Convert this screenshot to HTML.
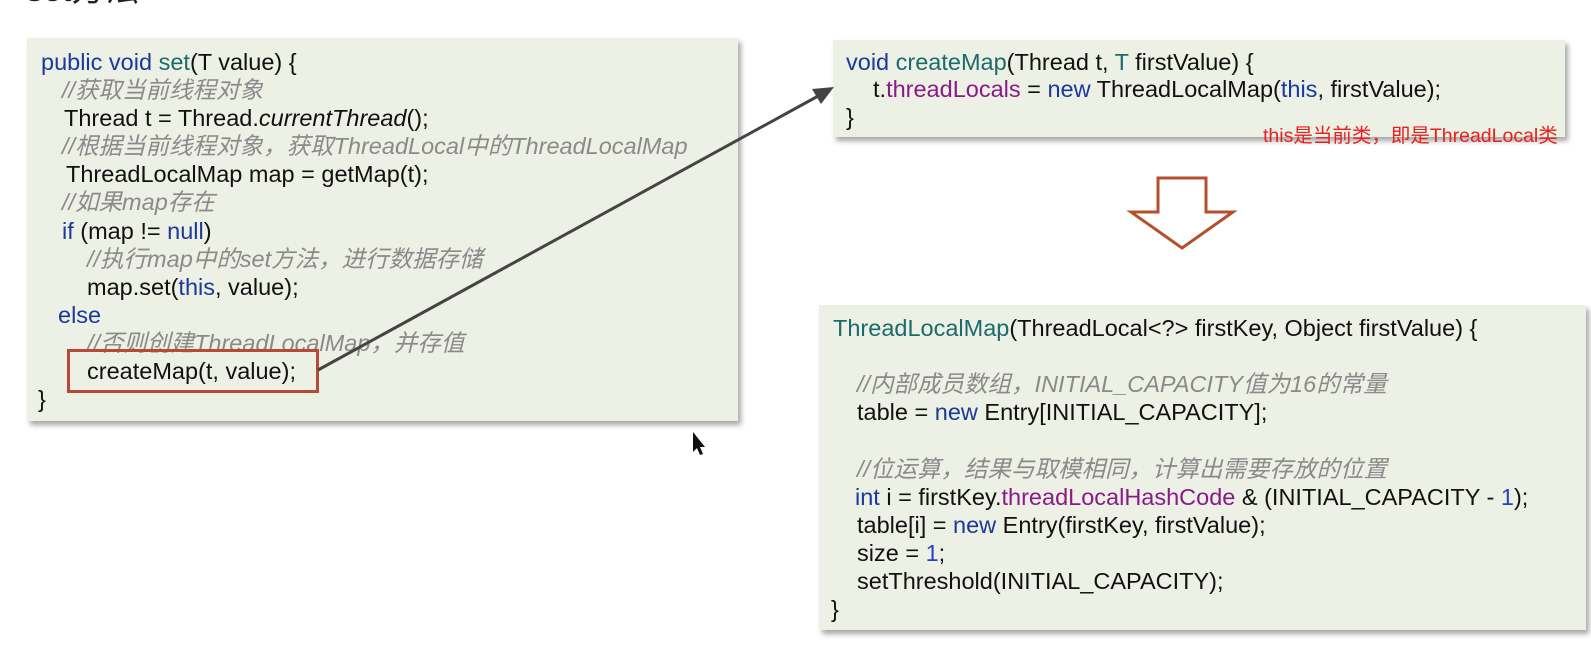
<!DOCTYPE html>
<html><head><meta charset="utf-8"><style>
body{margin:0;width:1591px;height:659px;background:#fff;position:relative;overflow:hidden;font-family:"Liberation Sans","Noto Sans CJK SC",sans-serif;}
.box{position:absolute;background:#edf0e4;box-shadow:3px 4px 5px rgba(0,0,0,0.35);}
.l{position:absolute;white-space:pre;font-size:23.5px;color:#111;line-height:28px;transform-origin:0 50%;}
.k{color:#1a3a9a}.f{color:#1a6b6b}.p{color:#8a1a8a}.n{color:#2244cc}
.c{color:#8a8a8a;font-style:italic}
</style></head><body>
<div class="l" style="left:26px;top:-30px;font-size:34px;line-height:40px;color:#222;">set方法</div>

<div class="box" style="left:27px;top:38px;width:711px;height:383px;"></div>
<div class="l" style="left:41px;top:48px;"><span class="k">public void </span><span class="f">set</span>(T value) {</div>
<div class="l c" style="left:62px;top:76px;">//获取当前线程对象</div>
<div class="l" style="left:64px;top:104px;">Thread t = Thread.<i>currentThread</i>();</div>
<div class="l c" style="left:62px;top:132px;">//根据当前线程对象，获取ThreadLocal中的ThreadLocalMap</div>
<div class="l" style="left:66px;top:160px;">ThreadLocalMap map = getMap(t);</div>
<div class="l c" style="left:62px;top:188px;">//如果map存在</div>
<div class="l" style="left:62px;top:217px;"><span class="k">if</span> (map != <span class="k">null</span>)</div>
<div class="l c" style="left:87px;top:245px;">//执行map中的set方法，进行数据存储</div>
<div class="l" style="left:87px;top:273px;">map.set(<span class="k">this</span>, value);</div>
<div class="l k" style="left:58px;top:301px;">else</div>
<div class="l c" style="left:87px;top:329px;">//否则创建ThreadLocalMap，并存值</div>
<div style="position:absolute;left:67px;top:349px;width:246px;height:38px;border:3px solid #b84a35;"></div>
<div class="l" style="left:87px;top:357px;">createMap(t, value);</div>
<div class="l" style="left:38px;top:385px;">}</div>

<div class="box" style="left:833px;top:40px;width:732px;height:97px;"></div>
<div class="l" style="left:846px;top:48px;"><span class="k">void </span><span class="f">createMap</span>(Thread t, <span class="f">T</span> firstValue) {</div>
<div class="l" style="left:873px;top:75px;">t.<span class="p">threadLocals</span> = <span class="k">new</span> ThreadLocalMap(<span class="k">this</span>, firstValue);</div>
<div class="l" style="left:846px;top:103px;">}</div>
<div class="l" style="left:1263px;top:122px;font-size:19.5px;color:#e8201e;">this是当前类，即是ThreadLocal类</div>

<svg width="1591" height="659" style="position:absolute;left:0;top:0">
<line x1="318" y1="370" x2="820" y2="95" stroke="#444" stroke-width="3"/>
<polygon points="834,87 812,89 821,104" fill="#444"/>
<polygon points="1158,178 1206,178 1206,212 1233,212 1182,248 1131,212 1158,212" fill="#fff" stroke="#b5502e" stroke-width="3"/>
<polygon points="693,432 693,452 697,448 700,455 703,454 700,447 705,447" fill="#111"/>
</svg>

<div class="box" style="left:819px;top:305px;width:767px;height:325px;"></div>
<div class="l" style="left:833px;top:314px;"><span class="f">ThreadLocalMap</span>(ThreadLocal&lt;?&gt; firstKey, Object firstValue) {</div>
<div class="l c" style="left:857px;top:370px;">//内部成员数组，INITIAL_CAPACITY值为16的常量</div>
<div class="l" style="left:857px;top:398px;">table = <span class="k">new</span> Entry[INITIAL_CAPACITY];</div>
<div class="l c" style="left:857px;top:455px;">//位运算，结果与取模相同，计算出需要存放的位置</div>
<div class="l" style="left:855px;top:483px;"><span class="k">int</span> i = firstKey.<span class="p">threadLocalHashCode</span> &amp; (INITIAL_CAPACITY - <span class="n">1</span>);</div>
<div class="l" style="left:857px;top:511px;">table[i] = <span class="k">new</span> Entry(firstKey, firstValue);</div>
<div class="l" style="left:857px;top:539px;">size = <span class="n">1</span>;</div>
<div class="l" style="left:857px;top:567px;">setThreshold(INITIAL_CAPACITY);</div>
<div class="l" style="left:831px;top:595px;">}</div>
</body></html>
